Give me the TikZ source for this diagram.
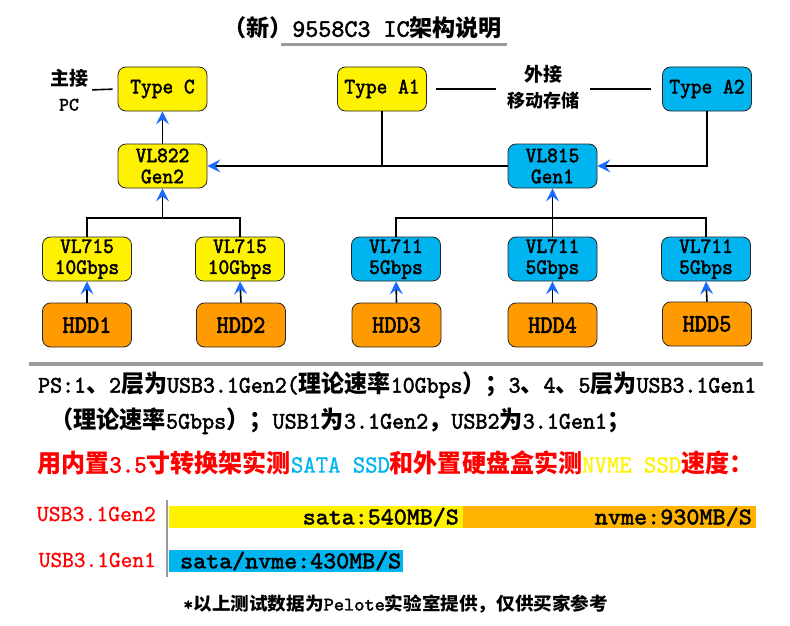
\documentclass[tikz,border=0pt]{standalone}
\usepackage{fontspec}
\usepackage{graphicx}
\usetikzlibrary{arrows.meta}
\setmainfont{lmmono10-regular.otf}
\newfontfamily\latb{lmmono10-regular.otf}[FakeStretch=0.99, FakeBold=2]
\newfontfamily\thinlat{lmmono10-regular.otf}[FakeStretch=0.98, FakeBold=0.8]
\newfontfamily\cjkfont{Noto Sans CJK SC}
\newfontfamily\boxfont{lmmono10-regular.otf}[FakeStretch=0.93, FakeBold=2]
\newcommand\zh[1]{{\cjkfont\bfseries #1}}
\newcommand\fitw[2]{\resizebox{#1}{\height}{#2}}
\definecolor{cyanbox}{HTML}{00B4F0}
\definecolor{hddor}{HTML}{FF9A00}
\definecolor{barorange}{HTML}{FFB300}
\definecolor{arrblue}{HTML}{1A6AFF}
\definecolor{sepgray}{HTML}{9A9A9A}
\begin{document}
\begin{tikzpicture}[x=1pt,y=-1pt,
  box/.style={draw=black!85, line width=0.8pt, rounded corners=8pt,
    minimum width=89pt, minimum height=44pt, inner sep=0pt, align=center,
    font=\boxfont\fontsize{22}{21}\selectfont},
  ybox/.style={box, fill=yellow},
  cbox/.style={box, fill=cyanbox},
  hddbox/.style={box, fill=hddor, font=\boxfont\fontsize{25}{25}\selectfont},
  conn/.style={line width=1.6pt, black},
  arr/.style={conn, -{Stealth[length=13pt, width=13pt, inset=5pt, color=arrblue]}},
  lbl/.style={inner sep=0pt, align=center}
]
\useasboundingbox (0,0) rectangle (790,626);

% title
\node[lbl, font=\latb\fontsize{25}{25}\selectfont] (title) at (362.5,28)
  {\fitw{279pt}{{\fontsize{23}{23}\selectfont\zh{（新）}}9558C3 IC{\fontsize{23}{23}\selectfont\zh{架构说明}}}};
\draw[line width=3pt, sepgray] (281,45) -- (507,45);

% top row
\node[ybox] (typec) at (162.5,89) {Type C};
\node[ybox] (a1) at (382,89) {Type A1};
\node[cbox] (a2) at (707,89) {Type A2};

\node[lbl, font=\latb\fontsize{19}{24}\selectfont] (host) at (69,90) {\zh{主接}\\[1pt]PC};
\node[lbl, inner xsep=11pt, font=\fontsize{18}{20}\selectfont] (ext) at (543,87)
  {{\fontsize{19}{19}\selectfont\zh{外接}}\\[6pt]\zh{移动存储}};

% hubs
\node[ybox] (vl822) at (162.5,166) {VL822\\Gen2};
\node[cbox] (vl815) at (552.5,166) {VL815\\Gen1};

% bridges
\node[ybox] (v715a) at (87,259) {VL715\\10Gbps};
\node[ybox] (v715b) at (240,259) {VL715\\10Gbps};
\node[cbox] (v711a) at (396,259) {VL711\\5Gbps};
\node[cbox] (v711b) at (552.5,259) {VL711\\5Gbps};
\node[cbox] (v711c) at (706,259) {VL711\\5Gbps};

% disks
\node[hddbox] (hdd1) at (87,325) {HDD1};
\node[hddbox] (hdd2) at (241,325) {HDD2};
\node[hddbox] (hdd3) at (396.5,325) {HDD3};
\node[hddbox] (hdd4) at (552.5,325) {HDD4};
\node[hddbox] (hdd5) at (707,324) {HDD5};

% connectors
\draw[conn, shorten <=4pt, shorten >=5pt] (host.east) -- (typec.west);
\draw[conn, shorten <=9pt] (a1.east) -- (a1.east -| ext.west);
\draw[conn, shorten >=11pt] (a2.west -| ext.east) -- (a2.west);
\draw[arr] (vl822.north) -- (typec.south);
\draw[conn] (a1.south) -- (a1.south |- vl822.east);
\draw[arr] (vl815.west) -- (vl822.east);
\draw[arr] (a2.south) |- (vl815.east);

\coordinate (j1) at (162.5,218);
\draw[conn] (v715a.north) |- (j1) -| (v715b.north);
\draw[arr] (j1) -- (vl822.south);
\coordinate (j2) at (552.5,218);
\draw[conn] (v711a.north) |- (j2) -| (v711c.north);
\draw[arr] (v711b.north) -- (vl815.south);

\draw[arr] (hdd1.north) -- (v715a.south);
\draw[arr] (hdd2.north) -- (v715b.south);
\draw[arr] (hdd3.north) -- (v711a.south);
\draw[arr] (hdd4.north) -- (v711b.south);
\draw[arr] (hdd5.north) -- (v711c.south);

% separator
\draw[line width=3.5pt, sepgray] (29,364) -- (763,364);

% notes
\node[lbl, anchor=west, font=\latb\fontsize{24}{24}\selectfont] (ps1) at (38,385)
  {\fitw{718pt}{PS:1\zh{、}2\zh{层为}USB3.1Gen2(\zh{理论速率}10Gbps\zh{）；}3\zh{、}4\zh{、}5\zh{层为}USB3.1Gen1}};
\node[lbl, anchor=west, font=\latb\fontsize{24}{24}\selectfont] (ps2) at (50,421)
  {\fitw{580pt}{\zh{（理论速率}5Gbps\zh{）；}USB1\zh{为}3.1Gen2\zh{，}USB2\zh{为}3.1Gen1\zh{；}}};
\node[lbl, anchor=west, text=red, font=\latb\fontsize{25}{25}\selectfont] (ps3) at (37,463)
  {\fitw{716pt}{\zh{用内置}3.5\zh{寸转换架实测}{\thinlat\color{cyanbox}SATA SSD}\zh{和外置硬盘盒实测}{\thinlat\color{yellow}NVME SSD}\zh{速度：}}};

% bars
\fill[yellow] (169,506) rectangle (463,528);
\fill[barorange] (463,506) rectangle (756,528);
\fill[cyanbox] (169,550) rectangle (403,572);
\draw[line width=1.5pt, sepgray] (167,500) -- (167,577);

\node[lbl, anchor=east, text=red, font=\thinlat\fontsize{23}{23}\selectfont] (g2) at (156,514) {\fitw{119pt}{USB3.1Gen2}};
\node[lbl, anchor=east, text=red, font=\thinlat\fontsize{23}{23}\selectfont] (g1) at (156,560) {\fitw{117pt}{USB3.1Gen1}};
\node[lbl, anchor=east, font=\latb\fontsize{24}{24}\selectfont] (s1) at (459,517) {\fitw{156pt}{sata:540MB/S}};
\node[lbl, anchor=east, font=\latb\fontsize{24}{24}\selectfont] (s2) at (752,517) {\fitw{157pt}{nvme:930MB/S}};
\node[lbl, anchor=west, font=\latb\fontsize{24}{24}\selectfont] (s3) at (180,561) {\fitw{221pt}{sata/nvme:430MB/S}};

\node[lbl, anchor=west, font=\latb\fontsize{19}{19}\selectfont] (foot) at (183,604)
  {\fitw{425pt}{*{\fontsize{18}{18}\selectfont\zh{以上测试数据为}}Pelote{\fontsize{18}{18}\selectfont\zh{实验室提供，仅供买家参考}}}};
\end{tikzpicture}
\end{document}
